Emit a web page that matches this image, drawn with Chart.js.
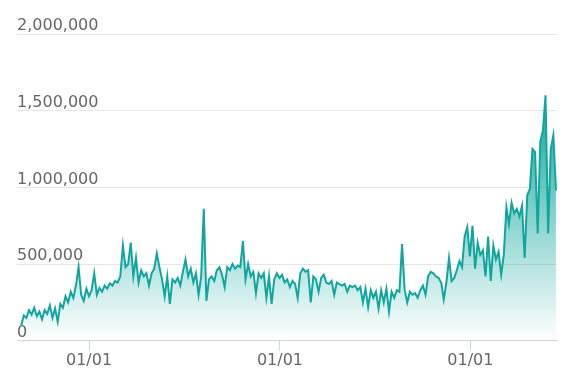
<!DOCTYPE html>
<html lang="en">
  <head>
    <meta charset="UTF-8" />
    <title>Volume</title>
  </head>
  <style>
    * {
      margin: 0;
      padding: 0;
    }
    body {
      background: #ffffff;
    }
    .chartBox {
      width: 569px;
      height: 385px;
    }
  </style>
  <body>
    <div class="chartBox">
      <canvas id="myChart"></canvas>
    </div>

    <script src="https://cdn.jsdelivr.net/npm/chart.js"></script>

    <script>
      // data block
      const DAY = 86400000;
      const startDate = Date.UTC(2019, 7, 24);
      const stepDays = 5;

      // values in thousands, one every 5 days
      const valuesK = [
        100, 165, 150, 200, 170, 215, 160, 190, 140, 200,
        175, 230, 150, 210, 125, 240, 215, 290, 250, 320,
        280, 360, 480, 300, 260, 340, 290, 330, 440, 300,
        345, 320, 360, 340, 375, 360, 390, 380, 420, 620,
        480, 500, 640, 420, 540, 380, 460, 420, 440, 360,
        440, 470, 570, 480, 400, 290, 420, 240, 400, 380,
        410, 360, 450, 530, 420, 470, 380, 440, 300, 420,
        860, 260, 400, 420, 390, 460, 480, 430, 350, 480,
        460, 500, 470, 490, 480, 650, 400, 500, 420, 450,
        310, 440, 410, 440, 280, 420, 240, 400, 440, 410,
        430, 380, 400, 350, 390, 370, 280, 440, 470, 450,
        460, 250, 420, 400, 320, 410, 430, 380, 370, 390,
        300, 380, 370, 360, 370, 320, 360, 350, 360, 330,
        350, 250, 340, 220, 330, 280, 320, 210, 330, 250,
        340, 190, 320, 280, 330, 320, 630, 330, 250, 320,
        300, 310, 280, 330, 360, 300, 420, 450, 440, 420,
        410, 380, 270, 380, 540, 390, 410, 460, 520, 480,
        680, 740, 550, 750, 470, 640, 560, 590, 420, 680,
        390, 620, 530, 580, 430, 560, 870, 760, 900, 830,
        860, 810, 880, 540, 950, 990, 1250, 1230, 700, 1300,
        1370, 1600, 700, 1250, 1340, 980
      ];

      const tickDates = [Date.UTC(2020, 0, 1), Date.UTC(2021, 0, 1), Date.UTC(2022, 0, 1)];
      const tickLabels = ["01/01", "01/01", "01/01"];
      const yTicks = [0, 500000, 1000000, 1500000, 2000000];

      const points = valuesK.map((v, i) => ({ x: startDate + i * stepDays * DAY, y: v * 1000 }));
      const lastDate = points[points.length - 1].x;
      const maxValue = Math.max(...points.map(p => p.y));

      const lineColor = "rgb(16, 166, 157)";

      function areaFill(context) {
        const chart = context.chart;
        const { ctx, chartArea, scales } = chart;
        if (!chartArea) return null;
        const top = scales.y.getPixelForValue(maxValue);
        const g = ctx.createLinearGradient(0, top, 0, chartArea.bottom);
        g.addColorStop(0, "rgba(16, 166, 157, 1)");
        g.addColorStop(1, "rgba(16, 166, 157, 0)");
        return g;
      }

      // config block
      const config = {
        type: "line",
        data: {
          datasets: [
            {
              data: points,
              borderColor: lineColor,
              borderWidth: 2,
              backgroundColor: areaFill,
              fill: "origin",
              pointRadius: 0,
              tension: 0
            }
          ]
        },
        options: {
          responsive: true,
          maintainAspectRatio: false,
          animation: false,
          layout: {
            padding: { left: 17, right: 12, top: 34, bottom: 15 }
          },
          plugins: {
            legend: { display: false },
            tooltip: { enabled: false }
          },
          scales: {
            x: {
              type: "linear",
              min: startDate - 8 * DAY,
              max: lastDate + 2 * DAY,
              afterBuildTicks: axis => {
                axis.ticks = tickDates.map(v => ({ value: v }));
              },
              ticks: {
                autoSkip: false,
                maxRotation: 0,
                padding: 0,
                color: "#666666",
                font: { family: "DejaVu Sans", size: 16 },
                callback: (value) => tickLabels[tickDates.indexOf(value)]
              },
              grid: {
                drawOnChartArea: false,
                drawTicks: true,
                tickLength: 10,
                color: "#ccd6eb"
              },
              border: { color: "#ccd6eb", width: 1 }
            },
            y: {
              min: 0,
              max: 2000000,
              afterBuildTicks: axis => {
                axis.ticks = yTicks.map(v => ({ value: v }));
              },
              ticks: {
                mirror: true,
                padding: 0,
                labelOffset: -8,
                color: "#666666",
                font: { family: "DejaVu Sans", size: 16 },
                callback: value => value.toLocaleString("en-US")
              },
              grid: {
                drawTicks: false,
                color: "#e6e6e6"
              },
              border: { display: false }
            }
          }
        }
      };

      // init render block
      const myChart = new Chart(document.getElementById("myChart"), config);
    </script>
  </body>
</html>
